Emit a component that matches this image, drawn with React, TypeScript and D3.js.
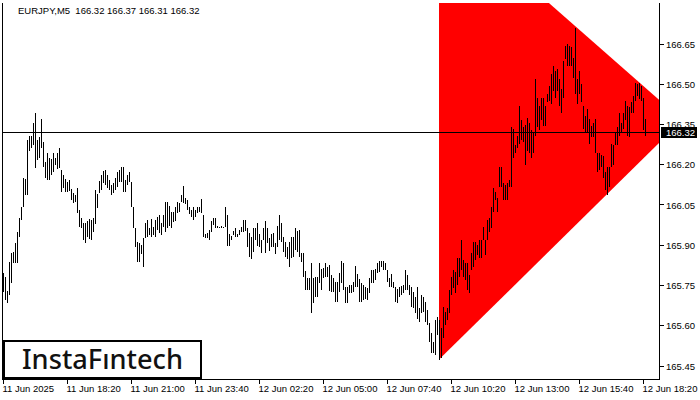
import React from 'react';
import * as d3 from 'd3';

const symbol = 'EURJPY,M5';
const lastQuote = [166.32, 166.37, 166.31, 166.32];
const currentPrice = 166.32;

const highs = [
  165.797,165.782,165.730,165.838,165.871,165.875,165.908,165.949,166.001,166.042,
  166.149,166.146,166.291,166.309,166.309,166.357,166.391,166.291,166.302,166.369,
  166.283,166.209,166.242,166.227,166.220,166.242,166.224,166.242,166.261,166.179,
  166.161,166.146,166.135,166.142,166.109,166.094,166.086,166.112,166.031,166.001,
  165.982,165.982,165.990,165.997,165.993,166.001,166.105,166.090,166.138,166.161,
  166.175,166.179,166.161,166.142,166.123,166.131,166.149,166.172,166.179,166.190,
  166.190,166.142,166.161,166.172,166.135,166.042,165.964,165.912,165.908,165.901,
  165.927,165.982,165.993,165.964,165.997,165.968,165.993,166.005,166.012,165.982,
  166.012,166.060,166.060,166.045,166.023,166.023,166.042,166.060,166.057,166.086,
  166.120,166.075,166.068,166.042,166.031,166.042,166.031,166.042,166.042,166.071,
  166.012,165.942,165.945,165.956,165.990,166.001,166.001,165.971,165.968,165.971,
  165.968,166.042,166.012,165.942,165.934,165.953,165.964,165.942,165.956,165.968,
  165.993,165.993,165.964,165.945,165.930,165.964,165.964,165.982,165.942,165.919,
  165.964,165.990,165.964,165.927,165.942,165.945,165.908,165.971,166.012,165.982,
  165.930,165.912,165.893,165.912,165.930,165.930,165.964,165.953,165.956,165.871,
  165.871,165.804,165.778,165.778,165.834,165.778,165.782,165.782,165.834,165.812,
  165.815,165.834,165.819,165.826,165.789,165.778,165.763,165.763,165.797,165.842,
  165.834,165.745,165.745,165.752,165.752,165.763,165.823,165.793,165.775,165.760,
  165.752,165.745,165.741,165.778,165.808,165.808,165.812,165.834,165.842,165.842,
  165.842,165.834,165.808,165.778,165.793,165.763,165.745,165.738,165.745,165.749,
  165.752,165.808,165.789,165.752,165.745,165.726,165.708,165.745,165.667,165.715,
  165.708,165.689,165.659,165.611,165.574,165.541,165.622,165.634,165.622,165.593,
  165.671,165.652,165.667,165.734,165.782,165.808,165.801,165.853,165.853,165.919,
  165.845,165.834,165.834,165.789,165.871,165.912,165.912,165.901,165.919,165.919,
  165.968,165.919,165.993,166.001,166.042,166.112,166.097,166.075,166.190,166.190,
  166.131,166.123,166.131,166.142,166.339,166.335,166.272,166.309,166.420,166.365,
  166.339,166.350,166.376,166.357,166.328,166.317,166.521,166.450,166.420,166.450,
  166.450,166.420,166.465,166.495,166.539,166.569,166.550,166.558,166.521,166.484,
  166.588,166.643,166.651,166.643,166.640,166.599,166.710,166.521,166.550,166.502,
  166.420,166.380,166.409,166.369,166.346,166.354,166.369,166.242,166.242,166.235,
  166.231,166.172,166.190,166.190,166.279,166.272,166.317,166.339,166.391,166.354,
  166.391,166.439,166.420,166.417,166.432,166.458,166.506,166.502,166.506,166.495,
  166.450,166.369,
];

const lows = [
  165.726,165.696,165.685,165.715,165.760,165.834,165.834,165.834,165.930,165.993,
  166.042,166.086,166.086,166.253,166.261,166.272,166.187,166.216,166.227,166.261,
  166.190,166.149,166.142,166.142,166.161,166.172,166.198,166.183,166.187,166.097,
  166.112,166.097,166.097,166.101,166.068,166.057,166.060,166.019,165.968,165.964,
  165.919,165.908,165.930,165.923,165.919,165.949,165.979,166.038,166.094,166.105,
  166.131,166.123,166.112,166.105,166.086,166.094,166.105,166.116,166.135,166.135,
  166.097,166.097,166.123,166.135,166.042,165.964,165.893,165.838,165.838,165.867,
  165.819,165.927,165.930,165.938,165.930,165.938,165.930,165.956,165.945,165.938,
  165.968,165.949,165.964,165.971,165.964,165.986,165.990,166.019,166.023,166.060,
  166.057,166.053,166.031,166.016,166.005,165.993,166.005,166.019,166.023,166.019,
  165.930,165.927,165.927,165.919,165.949,165.975,165.964,165.964,165.964,165.964,
  165.964,165.968,165.897,165.897,165.919,165.938,165.930,165.930,165.938,165.949,
  165.949,165.953,165.893,165.856,165.849,165.875,165.919,165.897,165.893,165.871,
  165.919,165.871,165.908,165.879,165.893,165.893,165.867,165.893,165.919,165.912,
  165.875,165.856,165.849,165.819,165.853,165.856,165.882,165.875,165.856,165.838,
  165.782,165.734,165.734,165.734,165.648,165.685,165.708,165.708,165.760,165.734,
  165.778,165.782,165.782,165.730,165.726,165.726,165.689,165.689,165.726,165.760,
  165.734,165.685,165.685,165.723,165.723,165.726,165.745,165.745,165.689,165.689,
  165.696,165.700,165.696,165.723,165.760,165.760,165.771,165.797,165.801,165.819,
  165.808,165.808,165.763,165.745,165.745,165.741,165.689,165.685,165.708,165.715,
  165.723,165.734,165.734,165.715,165.671,165.667,165.648,165.626,165.615,165.648,
  165.652,165.615,165.604,165.541,165.500,165.500,165.492,165.567,165.474,165.481,
  165.556,165.604,165.622,165.648,165.715,165.741,165.723,165.752,165.782,165.808,
  165.782,165.771,165.734,165.723,165.808,165.819,165.845,165.864,165.853,165.853,
  165.919,165.864,165.919,165.949,165.964,166.023,166.068,166.023,166.116,166.116,
  166.068,166.068,166.068,166.116,166.116,166.224,166.242,166.261,166.279,166.291,
  166.283,166.198,166.253,166.242,166.227,166.242,166.309,166.339,166.328,166.365,
  166.346,166.346,166.432,166.439,166.428,166.476,166.450,166.476,166.420,166.394,
  166.450,166.595,166.569,166.569,166.569,166.524,166.465,166.428,166.465,166.432,
  166.335,166.317,166.320,166.279,166.302,166.302,166.242,166.172,166.179,166.190,
  166.149,166.105,166.086,166.116,166.190,166.198,166.272,166.272,166.309,166.317,
  166.335,166.365,166.309,166.302,166.391,166.394,166.439,166.458,166.446,166.439,
  166.328,166.309,
];

const timeTickIndex = [0, 32, 64, 96, 128, 160, 192, 224, 256, 288, 320];
const timeLabels = [
  '11 Jun 2025', '11 Jun 18:20', '11 Jun 21:00', '11 Jun 23:40', '12 Jun 02:20',
  '12 Jun 05:00', '12 Jun 07:40', '12 Jun 10:20', '12 Jun 13:00', '12 Jun 15:40', '12 Jun 18:20',
];
const priceTicks = [165.45, 165.6, 165.75, 165.9, 166.05, 166.2, 166.35, 166.5, 166.65];

// triangle pattern vertices (bar index, price)
const patternIndex = [218, 339.6, 218];
const patternPrice = [167.163, 166.366, 165.474];

export default function App() {
  const W = 700, H = 400;
  const plotTop = 3, plotBottom = 379.5, plotLeft = 2.5, plotRight = 659.5;
  const x = d3.scaleLinear().domain([0, 328]).range([3, 659]);
  const y = d3.scaleLinear().domain([165.45, 166.65]).range([366, 44]);
  const px = (v: number) => Math.floor(v) + 0.5;
  const font = "'Liberation Sans', Arial, sans-serif";

  const triPath =
    (d3.line()(patternIndex.map((t, k) => [x(t), y(patternPrice[k])] as [number, number])) || '') + 'Z';

  const priceY = px(y(currentPrice));

  return (
    <svg width={W} height={H} style={{ position: 'absolute', left: 0, top: 0, background: '#fff' }}>
      <defs>
        <clipPath id="plot">
          <rect x={3} y={plotTop} width={656} height={plotBottom - plotTop} />
        </clipPath>
      </defs>
      <rect x={0} y={0} width={W} height={H} fill="#fff" />
      <text x={18} y={14} fontFamily={font} fontSize={9.5} fill="#000">
        {symbol + '\u00a0\u00a0' + lastQuote.map((v) => v.toFixed(2)).join(' ')}
      </text>
      <g clipPath="url(#plot)">
        <path d={triPath} fill="#ff0000" />
        <g shapeRendering="crispEdges">
          {highs.map((h, i) => {
            const y1 = Math.round(y(h));
            let y2 = Math.round(y(lows[i]));
            if (y2 <= y1) y2 = y1 + 1;
            return <line key={i} x1={x(i) + 0.5} x2={x(i) + 0.5} y1={y1} y2={y2} stroke="#000" strokeWidth={1} />;
          })}
          <line x1={plotLeft} x2={plotRight} y1={priceY} y2={priceY} stroke="#000" strokeWidth={1} />
        </g>
      </g>
      <g shapeRendering="crispEdges">
        <line x1={plotLeft} x2={plotLeft} y1={plotTop} y2={plotBottom} stroke="#000" />
        <line x1={plotRight} x2={plotRight} y1={plotTop} y2={plotBottom + 0.5} stroke="#000" />
        <line x1={plotLeft} x2={plotRight} y1={plotBottom} y2={plotBottom} stroke="#000" />
        {priceTicks.map((v) => (
          <line key={'pt' + v} x1={660} x2={664} y1={px(y(v))} y2={px(y(v))} stroke="#000" />
        ))}
        {timeTickIndex.map((t) => (
          <line key={'tt' + t} x1={px(x(t))} x2={px(x(t))} y1={380} y2={384} stroke="#000" />
        ))}
      </g>
      {priceTicks.map((v) => (
        <text key={'pl' + v} x={666} y={y(v) + 3.5} fontFamily={font} fontSize={9.5} fill="#000">
          {v.toFixed(2)}
        </text>
      ))}
      {timeTickIndex.map((t, k) => (
        <text key={'tl' + t} x={x(t) - 0.5} y={392} fontFamily={font} fontSize={9.5} fill="#000">
          {timeLabels[k]}
        </text>
      ))}
      <rect x={661} y={priceY - 5.5} width={36} height={11} fill="#000" shapeRendering="crispEdges" />
      <text x={666} y={priceY + 3.5} fontFamily={font} fontSize={9.5} fill="#fff">
        {currentPrice.toFixed(2)}
      </text>
      <rect x={4} y={341} width={197} height={37} fill="#fff" stroke="#000" strokeWidth={2} shapeRendering="crispEdges" />
      <text
        x={22}
        y={369}
        fontFamily="'Noto Sans', 'Open Sans', sans-serif"
        fontWeight={500}
        fontSize={27}
        fill="#111"
        textLength={161}
        lengthAdjust="spacingAndGlyphs"
      >
        InstaF{'\u0131'}ntech
      </text>
    </svg>
  );
}
